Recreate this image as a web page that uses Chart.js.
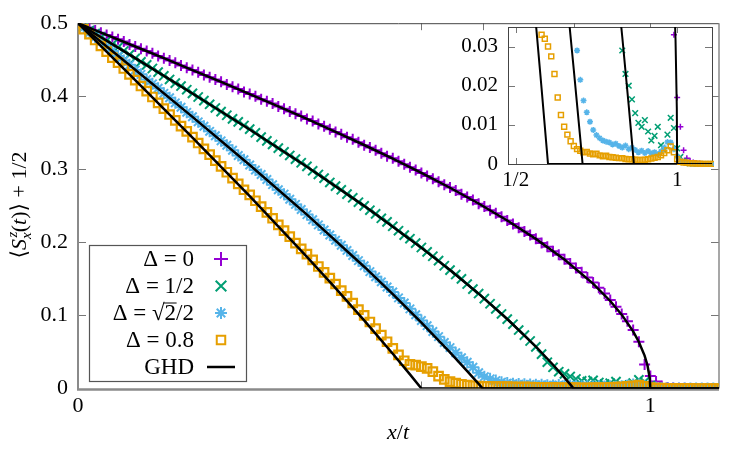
<!DOCTYPE html>
<html>
<head>
<meta charset="utf-8">
<script src="https://cdn.jsdelivr.net/npm/chart.js@4.4.1/dist/chart.umd.min.js"></script>
<style>
  body { margin: 0; background: #fff; }
  #wrap { position: relative; width: 750px; height: 450px; }
  #main { position: absolute; left: 0; top: 0; }
  #inset { position: absolute; left: 440px; top: 0; }
</style>
</head>
<body>
<div id="wrap">
  <canvas id="main" width="750" height="450"></canvas>
  <canvas id="inset" width="300" height="210"></canvas>
</div>
<script>
// x/t positions of the samples
const xs = [0,0.01,0.02,0.03,0.04,0.05,0.06,0.07,0.08,0.09,
  0.10,0.11,0.12,0.13,0.14,0.15,0.16,0.17,0.18,0.19,
  0.20,0.21,0.22,0.23,0.24,0.25,0.26,0.27,0.28,0.29,
  0.30,0.31,0.32,0.33,0.34,0.35,0.36,0.37,0.38,0.39,
  0.40,0.41,0.42,0.43,0.44,0.45,0.46,0.47,0.48,0.49,
  0.50,0.51,0.52,0.53,0.54,0.55,0.56,0.57,0.58,0.59,
  0.60,0.61,0.62,0.63,0.64,0.65,0.66,0.67,0.68,0.69,
  0.70,0.71,0.72,0.73,0.74,0.75,0.76,0.77,0.78,0.79,
  0.80,0.81,0.82,0.83,0.84,0.85,0.86,0.87,0.88,0.89,
  0.90,0.91,0.92,0.93,0.94,0.95,0.96,0.97,0.98,0.99,
  1.00,1.01,1.02,1.03,1.04,1.05,1.06,1.07,1.08,1.09,
  1.10,1.11,1.12];

// numerics, Delta = 0
const yD0 = [0.500,0.497,0.494,0.490,0.487,0.484,0.481,0.478,0.475,0.471,
  0.468,0.465,0.462,0.459,0.455,0.452,0.449,0.446,0.442,0.439,
  0.436,0.433,0.429,0.426,0.423,0.420,0.416,0.413,0.410,0.406,
  0.403,0.400,0.396,0.393,0.390,0.386,0.383,0.379,0.376,0.373,
  0.369,0.366,0.362,0.359,0.355,0.351,0.348,0.344,0.341,0.337,
  0.333,0.330,0.326,0.322,0.318,0.315,0.311,0.307,0.303,0.299,
  0.295,0.291,0.287,0.283,0.279,0.275,0.271,0.266,0.262,0.258,
  0.253,0.249,0.244,0.240,0.235,0.230,0.225,0.220,0.215,0.210,
  0.205,0.199,0.194,0.188,0.183,0.177,0.171,0.165,0.159,0.152,
  0.145,0.138,0.130,0.121,0.112,0.102,0.092,0.080,0.064,0.033,
  0.017,0.0095,0.0035,0.0015,0.0008,0.0004,0.0002,0.0001,0,0,
  0,0,0];

// Delta = 1/2
const yD05 = [0.500,0.495,0.490,0.486,0.481,0.476,0.471,0.467,0.462,0.457,
  0.452,0.447,0.443,0.438,0.433,0.428,0.423,0.418,0.414,0.409,
  0.404,0.399,0.394,0.389,0.384,0.379,0.374,0.369,0.365,0.360,
  0.355,0.350,0.344,0.339,0.334,0.329,0.324,0.319,0.314,0.309,
  0.304,0.298,0.293,0.288,0.282,0.277,0.272,0.266,0.261,0.255,
  0.250,0.244,0.239,0.233,0.228,0.222,0.216,0.210,0.205,0.199,
  0.193,0.187,0.181,0.175,0.168,0.162,0.156,0.150,0.143,0.136,
  0.130,0.123,0.116,0.109,0.102,0.095,0.088,0.080,0.073,0.065,
  0.057,0.047,0.036,0.029,0.023,0.020,0.0165,0.013,0.0105,0.0095,
  0.0112,0.0083,0.0060,0.0072,0.0095,0.0048,0.0035,0.0075,0.0118,0.0092,
  0.0040,0.0018,0.0008,0.0004,0.0002,0.0001,0,0,0,0,
  0,0,0];

// Delta = sqrt(2)/2
const yDsq = [0.500,0.494,0.487,0.481,0.475,0.468,0.462,0.455,0.449,0.443,
  0.436,0.430,0.423,0.417,0.411,0.404,0.398,0.391,0.385,0.378,
  0.372,0.365,0.359,0.352,0.346,0.339,0.333,0.326,0.319,0.313,
  0.306,0.299,0.293,0.286,0.279,0.272,0.266,0.259,0.252,0.245,
  0.238,0.231,0.224,0.217,0.210,0.203,0.196,0.189,0.182,0.175,
  0.168,0.160,0.153,0.146,0.139,0.132,0.124,0.117,0.109,0.101,
  0.093,0.086,0.078,0.071,0.063,0.056,0.049,0.042,0.036,0.029,
  0.0215,0.0162,0.0132,0.0108,0.0087,0.0074,0.0066,0.0060,0.0057,0.0055,
  0.0050,0.0052,0.0046,0.0042,0.0047,0.0038,0.0042,0.0036,0.0030,0.0034,
  0.0028,0.0033,0.0027,0.0030,0.0025,0.0032,0.0042,0.0056,0.0055,0.0038,
  0.0020,0.0009,0.0004,0.0002,0.0001,0,0,0,0,0,
  0,0,0];

// Delta = 0.8
const yD08 = [0.500,0.492,0.485,0.477,0.469,0.461,0.453,0.446,0.438,0.430,
  0.422,0.414,0.407,0.399,0.391,0.383,0.375,0.367,0.359,0.352,
  0.344,0.336,0.328,0.320,0.312,0.304,0.296,0.288,0.280,0.272,
  0.265,0.257,0.249,0.241,0.233,0.224,0.216,0.208,0.199,0.191,
  0.184,0.176,0.167,0.159,0.151,0.143,0.134,0.126,0.117,0.108,
  0.100,0.091,0.082,0.073,0.064,0.055,0.046,0.038,0.033,0.032,
  0.030,0.0275,0.023,0.017,0.0125,0.0095,0.0075,0.0058,0.0046,0.0038,
  0.0034,0.0030,0.0031,0.0027,0.0025,0.0026,0.0022,0.0020,0.0021,0.0018,
  0.0017,0.0016,0.0015,0.0015,0.0013,0.0012,0.0012,0.0011,0.0010,0.0010,
  0.0011,0.0012,0.0014,0.0016,0.0018,0.0022,0.0028,0.0035,0.0045,0.0030,
  0.0012,0.0006,0.0004,0.0003,0.0002,0.0002,0.0001,0.0001,0,0,
  0,0,0];

// GHD curves
const ghdX0 = [0,0.05,0.1,0.15,0.2,0.25,0.3,0.35,0.4,0.45,0.5,0.55,0.6,0.65,0.7,0.75,0.8,0.85,0.9,0.93,0.95,0.97,0.98,0.99,0.995,0.999,1,1.12];
const ghdY0 = [0.5,0.4841,0.4681,0.4521,0.4359,0.4196,0.4030,0.3862,0.3690,0.3514,0.3333,0.3146,0.2952,0.2748,0.2532,0.2300,0.2048,0.1766,0.1436,0.1198,0.1011,0.0782,0.0637,0.0450,0.0318,0.0143,0,0];
const ghdX05 = [0,0.1,0.2,0.3,0.4,0.5,0.6,0.65,0.7,0.75,0.8,0.83,0.85,0.86,0.866,1.12];
const ghdY05 = [0.5,0.4522,0.4038,0.3545,0.3035,0.25,0.1928,0.1622,0.1298,0.0951,0.0573,0.0325,0.0149,0.0057,0,0];
const ghdXsq = [0,0.1,0.2,0.3,0.4,0.5,0.55,0.6,0.65,0.68,0.7,0.7071,1.12];
const ghdYsq = [0.5,0.4362,0.3718,0.3060,0.2380,0.1667,0.1292,0.0903,0.0495,0.0239,0.0064,0,0];
const ghdX08 = [0,0.1,0.2,0.3,0.4,0.45,0.5,0.55,0.58,0.6,1.12];
const ghdY08 = [0.5,0.4221,0.3435,0.2632,0.1803,0.1373,0.0932,0.0475,0.0193,0,0];

// axes
const xTickVals = [0, 1];
const xTickText = ['0', '1'];
const yTickVals = [0, 0.1, 0.2, 0.3, 0.4, 0.5];
const yTickText = ['0', '0.1', '0.2', '0.3', '0.4', '0.5'];
const coneTicks = [0.6, 0.7071, 0.866, 1];
const insetXVals = [0.5, 1];
const insetXText = ['1/2', '1'];
const insetYVals = [0, 0.01, 0.02, 0.03];
const insetYText = ['0', '0.01', '0.02', '0.03'];
const legendText = ['Δ = 0', 'Δ = 1/2', 'Δ = √2/2', 'Δ = 0.8', 'GHD'];

const SERIF = '"Liberation Serif", "DejaVu Serif", serif';

const series = [
  { y: yD08, color: '#e69f00', style: 'rect',     r: 6,   ri: 3.5, lr: 6,   w: 2.2, order: 1 },
  { y: yDsq, color: '#56b4e9', style: 'star',     r: 6,   ri: 3,   lr: 6,   w: 2,   order: 2 },
  { y: yD05, color: '#009e73', style: 'crossRot', r: 6.5, ri: 4,   lr: 7.5, w: 2,   order: 3 },
  { y: yD0,  color: '#9400d3', style: 'cross',    r: 5.5, ri: 3,   lr: 7,   w: 2,   order: 4 }
];
const ghd = [[ghdX0, ghdY0], [ghdX05, ghdY05], [ghdXsq, ghdYsq], [ghdX08, ghdY08]];

function pts(ys) { return xs.map((x, i) => ({ x: x, y: ys[i] })); }
function curve(xv, yv) { return xv.map((x, i) => ({ x: x, y: yv[i] })); }

function makeDatasets(inset) {
  const out = [];
  ghd.forEach(g => out.push({
    data: curve(g[0], g[1]), showLine: true, borderColor: '#000',
    borderWidth: inset ? 2 : 2.5, pointRadius: 0, order: 0,
    clip: inset ? 0 : undefined
  }));
  series.forEach(s => out.push({
    data: pts(s.y), showLine: false, order: s.order,
    pointStyle: s.style, pointRadius: inset ? s.ri : s.r,
    pointBorderColor: s.color, pointBackgroundColor: 'rgba(0,0,0,0)',
    pointBorderWidth: inset ? 1.5 : s.w,
    clip: inset ? { left: 0, top: 0, right: 2, bottom: 3 } : undefined
  }));
  return out;
}

function drawRich(ctx, bits, x0, base) {
  let w = 0;
  bits.forEach(b => { ctx.font = b.f; b.w = ctx.measureText(b.t).width; if (!b.noAdv) w += b.w; });
  let x = x0 - w / 2;
  bits.forEach(b => {
    ctx.font = b.f;
    ctx.fillText(b.t, x + (b.dx || 0), base + (b.dy || 0));
    if (!b.noAdv) x += b.w;
  });
}

const big = '22px ' + SERIF, ital = 'italic 22px ' + SERIF, sm = 'italic 15px ' + SERIF;
const legFont = '23px ' + SERIF;

const mainDeco = {
  id: 'mainDeco',
  beforeDatasetsDraw(chart) {
    const { ctx, chartArea: a, scales: { x, y } } = chart;
    ctx.save();
    ctx.strokeStyle = '#777';
    ctx.lineWidth = 1;
    ctx.beginPath();
    yTickVals.slice(1, 5).forEach(v => {
      const py = Math.round(y.getPixelForValue(v)) + 0.5;
      ctx.moveTo(a.left, py); ctx.lineTo(a.left + 8, py);
      ctx.moveTo(a.right, py); ctx.lineTo(a.right - 8, py);
    });
    coneTicks.forEach(v => {
      const px = Math.round(x.getPixelForValue(v)) + 0.5;
      ctx.moveTo(px, a.top); ctx.lineTo(px, a.top + 7);
      ctx.moveTo(px, a.bottom); ctx.lineTo(px, a.bottom - 7);
    });
    ctx.stroke();
    ctx.strokeStyle = '#444';
    ctx.beginPath(); ctx.moveTo(a.left, a.top + 0.5); ctx.lineTo(a.right, a.top + 0.5); ctx.stroke();
    ctx.strokeStyle = '#8a8a8a';
    ctx.lineWidth = 1.5;
    ctx.beginPath(); ctx.moveTo(a.right, a.top); ctx.lineTo(a.right, a.bottom); ctx.stroke();
    ctx.lineWidth = 2;
    ctx.beginPath(); ctx.moveTo(a.left, a.top); ctx.lineTo(a.left, a.bottom + 1); ctx.stroke();
    ctx.lineWidth = 2.5;
    ctx.beginPath(); ctx.moveTo(a.left - 1, a.bottom + 1); ctx.lineTo(a.right, a.bottom + 1); ctx.stroke();
    ctx.restore();
  },
  afterDraw(chart) {
    const ctx = chart.ctx;
    ctx.save();
    ctx.fillStyle = '#000';
    ctx.textBaseline = 'alphabetic';

    // x title
    drawRich(ctx, [{ t: 'x', f: ital }, { t: '/', f: big }, { t: 't', f: ital }], 398, 439);

    // y title
    ctx.save();
    ctx.translate(26, 205);
    ctx.rotate(-Math.PI / 2);
    drawRich(ctx, [
      { t: '⟨', f: big }, { t: 'S', f: ital },
      { t: 'z', f: sm, dy: -9, dx: 1.5, noAdv: true }, { t: 'x', f: sm, dy: 5 },
      { t: '(', f: big }, { t: 't', f: ital }, { t: ')', f: big }, { t: '⟩', f: big },
      { t: ' + 1/2', f: big }
    ], 0, 0);
    ctx.restore();

    // legend
    const bx = 89, by = 245, bw = 157, bh = 136;
    ctx.fillStyle = '#fff';
    ctx.fillRect(bx, by, bw, bh);
    ctx.strokeStyle = '#555';
    ctx.lineWidth = 1.2;
    ctx.strokeRect(bx + 0.5, by + 0.5, bw, bh);
    const rows = [259, 286, 313, 340, 367];
    const legendSeries = [series[3], series[2], series[1], series[0]];
    ctx.font = legFont;
    ctx.textAlign = 'right';
    rows.forEach((ry, i) => {
      ctx.fillStyle = '#000';
      ctx.fillText(legendText[i], 194, ry + 7);
      if (i === 2) {
        const full = ctx.measureText(legendText[i]).width;
        const pre = ctx.measureText('Δ = √').width;
        const two = ctx.measureText('2').width;
        const sx = 194 - full + pre;
        ctx.strokeStyle = '#000';
        ctx.lineWidth = 1;
        ctx.beginPath(); ctx.moveTo(sx - 1, ry - 10); ctx.lineTo(sx + two + 0.5, ry - 10); ctx.stroke();
      }
      if (i < 4) {
        const s = legendSeries[i];
        ctx.strokeStyle = s.color;
        ctx.fillStyle = 'rgba(0,0,0,0)';
        ctx.lineWidth = 2;
        Chart.helpers.drawPoint(ctx, { pointStyle: s.style, radius: s.lr, rotation: 0, borderWidth: 2 }, 221, ry);
      } else {
        ctx.strokeStyle = '#000';
        ctx.lineWidth = 2.5;
        ctx.beginPath(); ctx.moveTo(207, ry); ctx.lineTo(235, ry); ctx.stroke();
      }
    });
    ctx.restore();
  }
};

const insetDeco = {
  id: 'insetDeco',
  beforeDatasetsDraw(chart) {
    const { ctx, chartArea: a, scales: { x, y } } = chart;
    ctx.save();
    ctx.fillStyle = '#fff';
    ctx.fillRect(a.left, a.top, a.right - a.left, a.bottom - a.top);
    ctx.strokeStyle = '#777';
    ctx.lineWidth = 1;
    ctx.beginPath();
    insetYVals.slice(1).forEach(v => {
      const py = Math.round(y.getPixelForValue(v)) + 0.5;
      ctx.moveTo(a.left, py); ctx.lineTo(a.left + 7, py);
      ctx.moveTo(a.right, py); ctx.lineTo(a.right - 7, py);
    });
    insetXVals.forEach(v => {
      const px = Math.round(x.getPixelForValue(v)) + 0.5;
      ctx.moveTo(px, a.top); ctx.lineTo(px, a.top + 6);
      ctx.moveTo(px, a.bottom); ctx.lineTo(px, a.bottom - 6);
    });
    ctx.stroke();
    ctx.strokeStyle = '#444';
    ctx.strokeRect(Math.round(a.left) + 0.5, Math.round(a.top) + 0.5, Math.round(a.right - a.left), Math.round(a.bottom - a.top));
    ctx.restore();
  }
};

Chart.defaults.font.family = SERIF;
Chart.defaults.color = '#000';
const tickFont = { family: SERIF, size: 22 };
const insetFont = { family: SERIF, size: 21 };

new Chart(document.getElementById('main'), {
  type: 'scatter',
  data: { datasets: makeDatasets(false) },
  options: {
    responsive: false,
    animation: false,
    events: [],
    layout: { padding: { top: 22, right: 31, left: 0, bottom: 0 } },
    plugins: { legend: { display: false }, tooltip: { enabled: false } },
    scales: {
      x: {
        type: 'linear', min: 0, max: 1.12,
        grid: { display: false, drawTicks: false }, border: { display: false },
        afterBuildTicks: s => { s.ticks = xTickVals.map(v => ({ value: v })); },
        afterFit: s => { s.height = 61.5; },
        ticks: { font: tickFont, color: '#000', padding: 5, maxRotation: 0, autoSkip: false,
                 callback: (v, i) => xTickText[i] }
      },
      y: {
        type: 'linear', min: 0, max: 0.5,
        grid: { display: false, drawTicks: false }, border: { display: false },
        afterBuildTicks: s => { s.ticks = yTickVals.map(v => ({ value: v })); },
        afterFit: s => { s.width = 78; },
        ticks: { font: tickFont, color: '#000', padding: 10, autoSkip: false,
                 callback: (v, i) => yTickText[i] }
      }
    }
  },
  plugins: [mainDeco]
});

new Chart(document.getElementById('inset'), {
  type: 'scatter',
  data: { datasets: makeDatasets(true) },
  options: {
    responsive: false,
    animation: false,
    events: [],
    layout: { padding: { top: 27, right: 28, left: 0, bottom: 0 } },
    plugins: { legend: { display: false }, tooltip: { enabled: false } },
    scales: {
      x: {
        type: 'linear', min: 0.476, max: 1.108,
        grid: { display: false, drawTicks: false }, border: { display: false },
        afterBuildTicks: s => { s.ticks = insetXVals.map(v => ({ value: v })); },
        afterFit: s => { s.height = 46; },
        ticks: { font: insetFont, color: '#000', padding: 4, maxRotation: 0, autoSkip: false,
                 callback: (v, i) => insetXText[i] }
      },
      y: {
        type: 'linear', min: 0, max: 0.035,
        grid: { display: false, drawTicks: false }, border: { display: false },
        afterBuildTicks: s => { s.ticks = insetYVals.map(v => ({ value: v })); },
        afterFit: s => { s.width = 68; },
        ticks: { font: insetFont, color: '#000', padding: 10, autoSkip: false,
                 callback: (v, i) => insetYText[i] }
      }
    }
  },
  plugins: [insetDeco]
});
</script>
</body>
</html>
